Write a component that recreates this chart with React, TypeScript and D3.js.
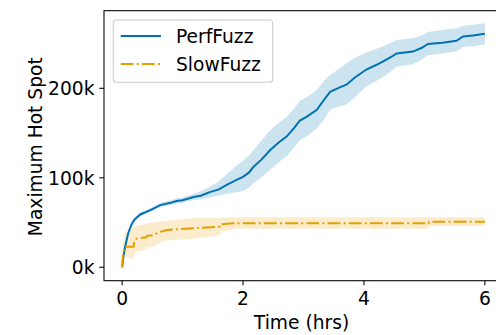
import React from "react";
import * as d3 from "d3";

// ---- data (values in thousands) ----
const perfTimes = [0, 0.02, 0.05, 0.1, 0.15, 0.2, 0.3, 0.4, 0.5, 0.63, 0.8, 0.9, 1.0, 1.18, 1.3, 1.45, 1.6, 1.73, 1.9, 2.0, 2.1, 2.17, 2.3, 2.45, 2.6, 2.72, 2.85, 2.94, 3.05, 3.22, 3.35, 3.44, 3.6, 3.71, 3.85, 4.04, 4.2, 4.32, 4.45, 4.54, 4.81, 4.95, 5.06, 5.3, 5.53, 5.64, 5.8, 6.0];
const perfMean = [0, 12, 23, 38, 47, 53, 59, 62, 65, 69.5, 72, 74, 75, 78.5, 80, 84, 87, 92, 98, 101, 106, 112, 120, 131, 140, 146, 156, 164, 168, 176, 188, 196, 201, 204, 212, 221, 226, 230, 235, 239, 241, 245, 249.5, 251, 253, 258, 259, 261];
const perfLow = [0, 10, 21, 36, 45, 51, 57, 60, 63, 67, 69.5, 71, 72, 75, 76, 78, 80, 82, 84, 85, 89, 94, 100, 109, 118, 124, 134, 142, 146, 155, 166, 176, 180, 182, 190, 202, 208, 213, 219, 224, 227, 232, 237, 239, 241, 246, 247, 249];
const perfHigh = [0, 14, 25, 40, 49, 55, 61, 64, 67, 72, 74.5, 77, 78, 82, 85, 90, 96, 104, 114, 119, 125, 131, 141, 153, 162, 168, 178, 186, 190, 198, 209, 215, 222, 228, 234, 240, 244, 247, 251, 254, 256, 259, 263, 265, 267, 270, 271, 273];

const slowTimes = [0, 0.01, 0.03, 0.05, 0.19, 0.2, 0.24, 0.4, 0.41, 0.52, 0.6, 0.74, 1.18, 1.62, 1.63, 1.84, 1.85, 5.07, 5.08, 6.0];
const slowMean = [0, 12, 20, 23, 23, 28, 32, 33.5, 35, 36, 39, 41.7, 43.6, 45.4, 48, 49.2, 49.2, 49.2, 51, 51];
const slowLow = [0, 4, 8, 11, 10, 15, 18, 20, 22, 23, 27, 30, 32, 36, 40, 42, 43, 43, 46, 46];
const slowHigh = [0, 22, 34, 38, 44, 45, 46, 48, 49, 50, 51, 52, 55, 55, 55, 56, 56, 56, 56, 56];

const seriesNames = ["PerfFuzz", "SlowFuzz"];
const xTicks = [0, 2, 4, 6];
const yTicks = [0, 100, 200];

const W = 496;
const H = 335;
const BLUE = "#0072B2";
const ORANGE = "#E69F00";
const FONT = "'DejaVu Sans', sans-serif";
const FS = 18.67;

export default function App() {
  const left = 104, right = 503, top = 10.7, bottom = 280.7;
  const x = d3.scaleLinear().domain([-0.3, 6.3]).range([left, right]);
  const y = d3.scaleLinear().domain([-15, 286.7]).range([bottom, top]);

  const mk = (ts: number[], m: number[], lo: number[], hi: number[]) =>
    ts.map((t, i) => ({ t, m: m[i], lo: lo[i], hi: hi[i] }));
  const perf = mk(perfTimes, perfMean, perfLow, perfHigh);
  const slow = mk(slowTimes, slowMean, slowLow, slowHigh);

  const line = d3.line<any>().x((d) => x(d.t)).y((d) => y(d.m));
  const area = d3.area<any>().x((d) => x(d.t)).y0((d) => y(d.lo)).y1((d) => y(d.hi));

  const dash = "12.8,3.2,2,3.2";

  return (
    <svg width={W} height={H} style={{ position: "absolute", left: 0, top: 0, background: "#fff" }} fontFamily={FONT}>
      <rect x={0} y={0} width={W} height={H} fill="#fff" />
      <path d={area(perf) || ""} fill={BLUE} fillOpacity={0.2} />
      <path d={area(slow) || ""} fill={ORANGE} fillOpacity={0.2} />
      <path d={line(perf) || ""} fill="none" stroke={BLUE} strokeWidth={2} />
      <path d={line(slow) || ""} fill="none" stroke={ORANGE} strokeWidth={2} strokeDasharray={dash} />

      {/* spines */}
      <rect x={left} y={top} width={right - left} height={bottom - top} fill="none" stroke="#000" strokeWidth={1.07} />

      {/* x ticks */}
      {xTicks.map((t) => (
        <g key={"x" + t}>
          <line x1={x(t)} x2={x(t)} y1={bottom} y2={bottom + 4.67} stroke="#000" strokeWidth={1.07} />
          <text x={x(t)} y={305} fontSize={FS} textAnchor="middle" fill="#000">{t}</text>
        </g>
      ))}
      {/* y ticks */}
      {yTicks.map((v) => (
        <g key={"y" + v}>
          <line x1={left - 4.67} x2={left} y1={y(v)} y2={y(v)} stroke="#000" strokeWidth={1.07} />
          <text x={94.5} y={y(v) + 6.8} fontSize={FS} textAnchor="end" fill="#000">{v + "k"}</text>
        </g>
      ))}

      <text x={(left + right) / 2 - 2} y={329} fontSize={FS} textAnchor="middle" fill="#000">Time (hrs)</text>
      <text transform={`translate(41.5,${(top + bottom) / 2 + 1}) rotate(-90)`} fontSize={FS} textAnchor="middle" fill="#000">Maximum Hot Spot</text>

      {/* legend */}
      <rect x={113.3} y={20} width={159.4} height={62.3} rx={3} fill="#fff" fillOpacity={0.8} stroke="#cccccc" strokeWidth={1.07} />
      <line x1={120.7} x2={161} y1={36} y2={36} stroke={BLUE} strokeWidth={2} />
      <text x={176} y={43.3} fontSize={FS} fill="#000">{seriesNames[0]}</text>
      <line x1={120.7} x2={161} y1={64} y2={64} stroke={ORANGE} strokeWidth={2} strokeDasharray={dash} />
      <text x={176} y={71} fontSize={FS} fill="#000">{seriesNames[1]}</text>
    </svg>
  );
}
